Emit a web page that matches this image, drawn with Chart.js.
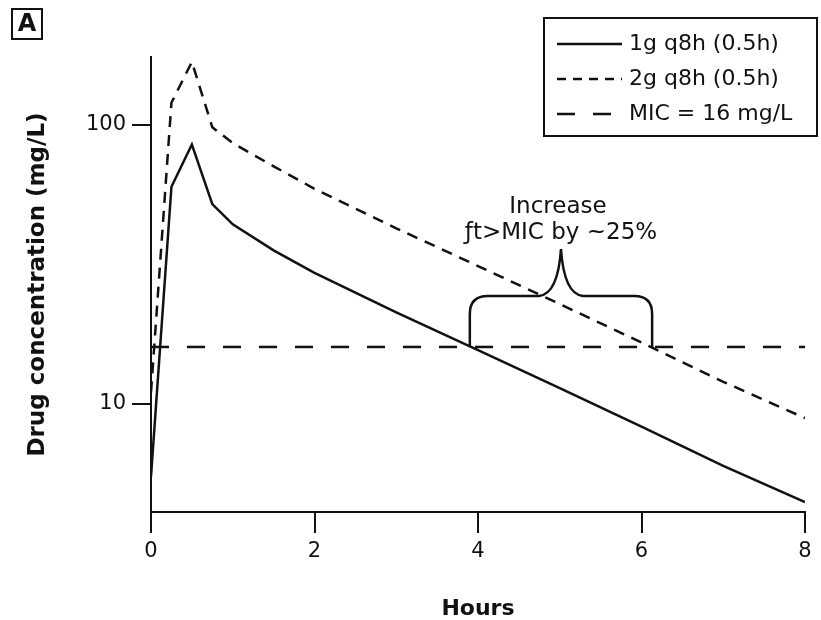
<!DOCTYPE html>
<html>
<head>
<meta charset="utf-8">
<script src="https://cdn.jsdelivr.net/npm/chart.js@4.4.1/dist/chart.umd.min.js"></script>
<style>
  body { margin: 0; background: #fff; }
  canvas { display: block; }
</style>
</head>
<body>
<canvas id="pkChart" width="821" height="620"></canvas>
<script>
// values
const hours = [0, 0.25, 0.5, 0.75, 1, 1.5, 2, 3, 4, 5, 6, 7, 8];
const conc1g = [5.5, 60, 85, 52, 44, 35.5, 29.5, 21.3, 15.6, 11.4, 8.3, 6.0, 4.45];
const conc2g = [11, 120, 168, 98, 86, 71, 59, 42.6, 31.2, 22.8, 16.6, 12.0, 8.9];
const micHours = [0, 8];
const micValue = 16;
const seriesNames = ["1g q8h (0.5h)", "2g q8h (0.5h)", "MIC = 16 mg/L"];
const yTicks = [10, 100];
const micCrossLow = 3.9;   // 1g falls below MIC
const micCrossHigh = 6.13; // 2g falls below MIC
const noteLines = ["Increase", "\u0192t>MIC by ~25%"];

const ink = "#111";
const font = "'DejaVu Sans', Verdana, sans-serif";

function toPoints(xs, ys) {
    return xs.map((x, i) => ({ x: x, y: ys[i] }));
}

// legend box, brace note and the panel letter
const extras = {
    id: "extras",
    afterDraw(chart) {
        const ctx = chart.ctx;
        const xs = chart.scales.x;
        const ys = chart.scales.y;
        ctx.save();
        ctx.strokeStyle = ink;
        ctx.fillStyle = ink;

        // panel letter
        ctx.lineWidth = 2;
        ctx.strokeRect(12, 9, 30, 30);
        ctx.font = "bold 24px " + font;
        ctx.textAlign = "center";
        ctx.textBaseline = "middle";
        ctx.fillText("A", 27, 25);

        // legend
        ctx.strokeRect(544, 18, 273, 118);
        ctx.font = "22px " + font;
        ctx.textAlign = "left";
        const rows = [44, 79, 114];
        chart.data.datasets.forEach((ds, i) => {
            ctx.beginPath();
            ctx.lineWidth = 2.5;
            ctx.setLineDash(i === 1 ? [9, 7] : (ds.borderDash || []));
            ctx.moveTo(557, rows[i]);
            ctx.lineTo(622, rows[i]);
            ctx.stroke();
            ctx.setLineDash([]);
            ctx.fillText(ds.label, 629, rows[i]);
        });

        // curly brace between the two MIC crossings
        const xl = xs.getPixelForValue(micCrossLow);
        const xr = xs.getPixelForValue(micCrossHigh);
        const yb = ys.getPixelForValue(micValue);
        const xm = (xl + xr) / 2;
        const yh = yb - 51;
        const yc = yb - 98;
        ctx.lineWidth = 2.5;
        ctx.beginPath();
        ctx.moveTo(xl, yb);
        ctx.lineTo(xl, yh + 18);
        ctx.quadraticCurveTo(xl, yh, xl + 18, yh);
        ctx.lineTo(xm - 22, yh);
        ctx.quadraticCurveTo(xm - 3, yh - 2, xm, yc);
        ctx.quadraticCurveTo(xm + 3, yh - 2, xm + 22, yh);
        ctx.lineTo(xr - 18, yh);
        ctx.quadraticCurveTo(xr, yh, xr, yh + 18);
        ctx.lineTo(xr, yb);
        ctx.stroke();

        ctx.font = "23px " + font;
        ctx.textAlign = "center";
        ctx.fillText(noteLines[0], xm - 3, 207);
        ctx.fillText(noteLines[1], xm, 233);
        ctx.restore();
    }
};

new Chart(document.getElementById("pkChart"), {
    type: "line",
    data: {
        datasets: [
            {
                label: seriesNames[0],
                data: toPoints(hours, conc1g),
                borderColor: ink,
                borderWidth: 2.5
            },
            {
                label: seriesNames[1],
                data: toPoints(hours, conc2g),
                borderColor: ink,
                borderWidth: 2.5,
                borderDash: [11, 8]
            },
            {
                label: seriesNames[2],
                data: toPoints(micHours, micHours.map(() => micValue)),
                borderColor: ink,
                borderWidth: 2.5,
                borderDash: [18, 18]
            }
        ]
    },
    options: {
        responsive: false,
        animation: false,
        elements: { point: { radius: 0 }, line: { tension: 0 } },
        layout: { padding: { top: 57, right: 16, left: 0, bottom: 0 } },
        plugins: {
            legend: { display: false },
            tooltip: { enabled: false }
        },
        scales: {
            x: {
                type: "linear",
                min: 0,
                max: 8,
                afterFit(scale) { scale.height = 108; },
                border: { display: true, color: ink, width: 2 },
                grid: { drawOnChartArea: false, drawTicks: true, tickLength: 21, color: ink, lineWidth: 2 },
                ticks: { stepSize: 2, color: ink, padding: 6, font: { family: font, size: 21 } },
                title: {
                    display: true,
                    text: "Hours",
                    color: ink,
                    padding: { top: 0, bottom: 0 },
                    font: { family: font, size: 22, weight: "bold", lineHeight: 1 }
                }
            },
            y: {
                type: "logarithmic",
                min: 4.1,
                max: 175,
                afterFit(scale) { scale.width = 151; },
                afterBuildTicks(scale) { scale.ticks = yTicks.map(v => ({ value: v })); },
                border: { display: true, color: ink, width: 2 },
                grid: { drawOnChartArea: false, drawTicks: true, tickLength: 19, color: ink, lineWidth: 2 },
                ticks: {
                    color: ink,
                    padding: 6,
                    font: { family: font, size: 21 },
                    callback: v => String(v)
                },
                title: {
                    display: true,
                    text: "Drug concentration (mg/L)",
                    color: ink,
                    padding: { top: 24, bottom: 0 },
                    font: { family: font, size: 23, weight: "bold", lineHeight: 1.2 }
                }
            }
        }
    },
    plugins: [extras]
});
</script>
</body>
</html>
